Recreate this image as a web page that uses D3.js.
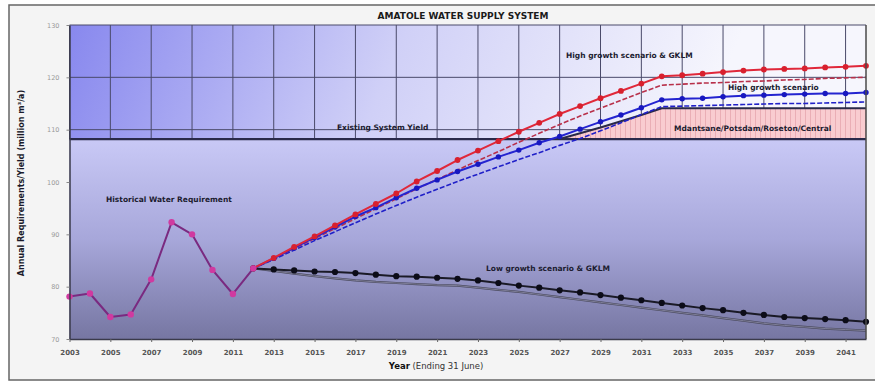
<!DOCTYPE html>
<html>
<head>
<meta charset="utf-8">
<script src="https://cdn.jsdelivr.net/npm/d3@7"></script>
<style>
body { margin: 0; background: #fff; }
text { font-family: "DejaVu Sans", Verdana, sans-serif; }
</style>
</head>
<body>
<svg id="chart" width="875" height="384"></svg>
<script>
// data
var histYears = [2003, 2004, 2005, 2006, 2007, 2008, 2009, 2010, 2011, 2012];
var histReq = [78.1, 78.7, 74.2, 74.7, 81.4, 92.3, 90.0, 83.2, 78.6, 83.5];

var projYears = [2012, 2013, 2014, 2015, 2016, 2017, 2018, 2019, 2020, 2021, 2022,
    2023, 2024, 2025, 2026, 2027, 2028, 2029, 2030, 2031, 2032,
    2033, 2034, 2035, 2036, 2037, 2038, 2039, 2040, 2041, 2042];
var highGKLM = [83.5, 85.5, 87.6, 89.6, 91.7, 93.8, 95.8, 97.8, 100.1, 102.1, 104.2,
    106.0, 107.8, 109.6, 111.3, 113.0, 114.5, 116.0, 117.4, 118.8, 120.2,
    120.4, 120.7, 121.0, 121.3, 121.5, 121.6, 121.7, 121.9, 122.0, 122.2];
var highGKLMDash = [83.5, 85.4, 87.3, 89.2, 91.1, 93.0, 94.9, 96.8, 98.7, 100.5, 102.3,
    104.1, 105.8, 107.6, 109.3, 111.0, 112.6, 114.1, 115.6, 117.1, 118.5,
    118.7, 118.9, 119.0, 119.2, 119.3, 119.5, 119.6, 119.8, 119.9, 120.0];
var highGrowth = [83.5, 85.4, 87.4, 89.4, 91.4, 93.4, 95.1, 97.0, 98.8, 100.4, 102.0,
    103.4, 104.8, 106.1, 107.5, 108.7, 110.1, 111.5, 112.8, 114.2, 115.7,
    115.9, 116.0, 116.3, 116.5, 116.6, 116.7, 116.8, 116.9, 116.9, 117.1];
var highGrowthDash = [83.5, 85.2, 87.0, 88.8, 90.5, 92.2, 93.9, 95.5, 97.1, 98.6, 100.1,
    101.5, 102.9, 104.3, 105.6, 107.0, 108.3, 109.8, 111.3, 112.9, 114.4,
    114.5, 114.6, 114.7, 114.8, 114.9, 115.0, 115.0, 115.1, 115.2, 115.3];
var lowGKLM = [83.5, 83.3, 83.1, 82.9, 82.8, 82.6, 82.3, 82.0, 81.9, 81.7, 81.5,
    81.2, 80.7, 80.2, 79.8, 79.3, 78.9, 78.4, 77.9, 77.4, 76.9,
    76.4, 75.9, 75.5, 75.0, 74.6, 74.2, 74.0, 73.8, 73.6, 73.3];
var lowGrowth = [83.5, 83.0, 82.5, 82.0, 81.6, 81.2, 80.9, 80.7, 80.5, 80.3, 80.2,
    79.8, 79.4, 79.0, 78.5, 78.0, 77.5, 77.0, 76.5, 76.0, 75.5,
    75.0, 74.5, 74.0, 73.5, 73.0, 72.6, 72.3, 72.0, 71.8, 71.6];

var existingYield = 108.2;
var schemeYears = [2027, 2028, 2029, 2030, 2031, 2032, 2042];
var schemeYield = [108.2, 109.3, 110.4, 111.6, 112.8, 114.1, 114.1];

var xTicks = [2003, 2005, 2007, 2009, 2011, 2013, 2015, 2017, 2019, 2021,
    2023, 2025, 2027, 2029, 2031, 2033, 2035, 2037, 2039, 2041];
var yTicks = [70, 80, 90, 100, 110, 120, 130];
var yGrid = [110, 120, 130];

var svg = d3.select("#chart");
var plotL = 69.5, plotR = 866, plotT = 25, plotB = 339;

var x = d3.scaleLinear().domain([2003, 2042]).range([plotL, plotR]);
var y = d3.scaleLinear().domain([70, 130]).range([plotB, plotT]);
var yieldY = y(existingYield);

var defs = svg.append("defs");
var g1 = defs.append("linearGradient").attr("id", "upper")
    .attr("gradientUnits", "userSpaceOnUse")
    .attr("x1", plotL).attr("y1", plotT).attr("x2", 650).attr("y2", 260);
g1.append("stop").attr("offset", 0).attr("stop-color", "#8888ee");
g1.append("stop").attr("offset", 0.5).attr("stop-color", "#d0d0f7");
g1.append("stop").attr("offset", 1).attr("stop-color", "#f6f6fd");

var g2 = defs.append("linearGradient").attr("id", "lower")
    .attr("x1", 0).attr("y1", 0).attr("x2", 0).attr("y2", 1);
g2.append("stop").attr("offset", 0).attr("stop-color", "#c9c9f6");
g2.append("stop").attr("offset", 0.5).attr("stop-color", "#a7a7da");
g2.append("stop").attr("offset", 1).attr("stop-color", "#7676a2");

var pat = defs.append("pattern").attr("id", "stripes")
    .attr("patternUnits", "userSpaceOnUse").attr("width", 5).attr("height", 10);
pat.append("rect").attr("width", 5).attr("height", 10).attr("fill", "#f9ccd0");
pat.append("line").attr("x1", 0.5).attr("x2", 0.5).attr("y1", 0).attr("y2", 10)
    .attr("stroke", "#e6a6ae").attr("stroke-width", 0.8);

// outer frame
svg.append("rect").attr("x", 9).attr("y", 5).attr("width", 880).attr("height", 375)
    .attr("fill", "#f4f4f4").attr("stroke", "#666").attr("stroke-width", 1.5);

// backgrounds
svg.append("rect").attr("x", plotL).attr("y", plotT)
    .attr("width", plotR - plotL).attr("height", yieldY - plotT)
    .attr("fill", "url(#upper)");
svg.append("rect").attr("x", plotL).attr("y", yieldY)
    .attr("width", plotR - plotL).attr("height", plotB - yieldY)
    .attr("fill", "url(#lower)");

// grid in upper band
svg.append("g").selectAll("line").data(xTicks).join("line")
    .attr("x1", d => x(d)).attr("x2", d => x(d))
    .attr("y1", plotT).attr("y2", yieldY)
    .attr("stroke", "#4a4a6a").attr("stroke-width", 1);
svg.append("g").selectAll("line").data(yGrid).join("line")
    .attr("x1", plotL).attr("x2", plotR)
    .attr("y1", d => y(d)).attr("y2", d => y(d))
    .attr("stroke", "#4a4a6a").attr("stroke-width", 1);

// scheme yield area
var area = d3.area()
    .x((d, i) => x(schemeYears[i]))
    .y0(yieldY)
    .y1(d => y(d));
svg.append("path").datum(schemeYield).attr("d", area).attr("fill", "url(#stripes)");
svg.append("path").datum(schemeYield)
    .attr("d", d3.line().x((d, i) => x(schemeYears[i])).y(d => y(d)))
    .attr("fill", "none").attr("stroke", "#2a2a48").attr("stroke-width", 2);

svg.append("line").attr("x1", plotL).attr("x2", plotR)
    .attr("y1", yieldY).attr("y2", yieldY)
    .attr("stroke", "#2a2a4a").attr("stroke-width", 2.2);

// series
function drawLine(xs, vals, colour, width, dash) {
    var line = d3.line().x((d, i) => x(xs[i])).y(d => y(d));
    svg.append("path").datum(vals).attr("d", line)
        .attr("fill", "none").attr("stroke", colour)
        .attr("stroke-width", width)
        .attr("stroke-dasharray", dash || null)
        .attr("stroke-linejoin", "round");
}
function drawDots(xs, vals, colour, r) {
    svg.append("g").selectAll("circle").data(vals).join("circle")
        .attr("cx", (d, i) => x(xs[i])).attr("cy", d => y(d))
        .attr("r", r).attr("fill", colour);
}

drawLine(projYears, lowGrowth, "#4a4a5e", 2.2);
drawLine(projYears, lowGrowth, "#8c8ca6", 0.8);
drawLine(projYears, lowGKLM, "#1a1a26", 2);
drawDots(projYears, lowGKLM, "#0c0c18", 3.1);

drawLine(projYears, highGrowthDash, "#2020c8", 1.6, "5,2");
drawLine(projYears, highGKLMDash, "#b8304a", 1.6, "5,2");
drawLine(projYears, highGrowth, "#2424d0", 2);
drawDots(projYears, highGrowth, "#1818c0", 2.7);
drawLine(projYears, highGKLM, "#e0283a", 2);
drawDots(projYears, highGKLM, "#d8202e", 2.9);

drawLine(histYears, histReq, "#7a2a80", 2);
drawDots(histYears, histReq, "#d03aa0", 3.2);

// plot frame
svg.append("line").attr("x1", plotR).attr("x2", plotR).attr("y1", plotT).attr("y2", plotB)
    .attr("stroke", "#4a4a4a").attr("stroke-width", 1.5);

// axes
var xAxis = svg.append("g").attr("transform", "translate(0," + plotB + ")")
    .call(d3.axisBottom(x).tickValues(xTicks).tickFormat(d3.format("d"))
        .tickSize(3).tickSizeOuter(0));
xAxis.select(".domain").attr("stroke", "#3a3a4a").attr("stroke-width", 1.5);
xAxis.selectAll(".tick line").attr("stroke", "#666");
xAxis.selectAll("text").attr("dy", "1.4em").attr("fill", "#555")
    .attr("font-size", 7).attr("font-weight", "bold")
    .style("font-family", "'DejaVu Sans', sans-serif");

var yAxis = svg.append("g").attr("transform", "translate(" + plotL + ",0)")
    .call(d3.axisLeft(y).tickValues(yTicks).tickSize(3).tickSizeOuter(0));
yAxis.select(".domain").attr("stroke", "#3a3a4a").attr("stroke-width", 1.5);
yAxis.selectAll(".tick line").attr("stroke", "#888");
yAxis.selectAll("text").attr("x", -10).attr("fill", "#999")
    .attr("font-size", 6.5)
    .style("font-family", "'DejaVu Sans', sans-serif");

// titles and labels
svg.append("text").attr("x", 463).attr("y", 19).attr("text-anchor", "middle")
    .attr("font-size", 9).attr("font-weight", "bold").attr("fill", "#1a1a1a")
    .text("AMATOLE WATER SUPPLY SYSTEM");

var xt = svg.append("text").attr("x", 436).attr("y", 369).attr("text-anchor", "middle")
    .attr("font-size", 8.5).attr("fill", "#333");
xt.append("tspan").attr("font-weight", "bold").attr("fill", "#111").text("Year");
xt.append("tspan").text(" (Ending 31 June)");

svg.append("text").attr("transform", "translate(24,183) rotate(-90)")
    .attr("text-anchor", "middle").attr("font-size", 8).attr("font-weight", "bold")
    .attr("fill", "#1a1a2a").text("Annual Requirements/Yield (million m³/a)");

var labels = [
    {t: "High growth scenario & GKLM", x: 566, y: 58},
    {t: "High growth scenario", x: 728, y: 90},
    {t: "Existing System Yield", x: 337, y: 130},
    {t: "Mdantsane/Potsdam/Roseton/Central", x: 674, y: 131},
    {t: "Historical Water Requirement", x: 106, y: 202},
    {t: "Low growth scenario & GKLM", x: 486, y: 271}
];
svg.append("g").selectAll("text").data(labels).join("text")
    .attr("x", d => d.x).attr("y", d => d.y)
    .attr("font-size", 7.5).attr("font-weight", "bold").attr("fill", "#1c1c30")
    .text(d => d.t);
</script>
</body>
</html>
